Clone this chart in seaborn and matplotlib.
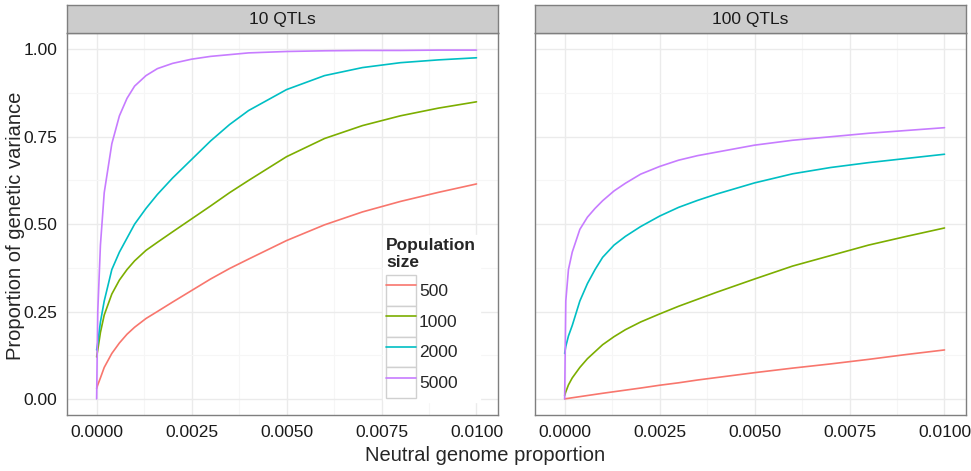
import numpy as np
import pandas as pd
import seaborn as sns
import matplotlib.pyplot as plt
from matplotlib.ticker import MultipleLocator
from matplotlib.legend_handler import HandlerLine2D
from matplotlib.patches import Rectangle

# neutral genome proportion (shared x grid)
x_vals = [0, 0.00003, 0.0001, 0.0002, 0.0004, 0.0006, 0.0008, 0.001, 0.0013, 0.0016,
          0.002, 0.0025, 0.003, 0.0035, 0.004, 0.005, 0.006, 0.007, 0.008, 0.009, 0.01]

pop_sizes = ['500', '1000', '2000', '5000']
panels = ['10 QTLs', '100 QTLs']

# 10 QTLs
q10_500 = [0.03, 0.04, 0.06, 0.09, 0.13, 0.16, 0.185, 0.205, 0.23, 0.25, 0.277, 0.31,
           0.343, 0.373, 0.40, 0.453, 0.498, 0.535, 0.565, 0.591, 0.615]
q10_1000 = [0.12, 0.14, 0.19, 0.24, 0.30, 0.34, 0.37, 0.395, 0.425, 0.448, 0.478, 0.515,
            0.552, 0.59, 0.625, 0.693, 0.745, 0.782, 0.81, 0.832, 0.85]
q10_2000 = [0.14, 0.16, 0.22, 0.28, 0.37, 0.42, 0.46, 0.50, 0.545, 0.585, 0.632, 0.685,
            0.738, 0.785, 0.825, 0.885, 0.925, 0.948, 0.962, 0.97, 0.976]
q10_5000 = [0.0, 0.25, 0.44, 0.59, 0.73, 0.81, 0.86, 0.895, 0.925, 0.945, 0.96, 0.972,
            0.98, 0.985, 0.99, 0.994, 0.996, 0.997, 0.997, 0.998, 0.998]

# 100 QTLs
q100_500 = [0.0, 0.0005, 0.0016, 0.0032, 0.0064, 0.0096, 0.0128, 0.016, 0.0205, 0.025, 0.031,
            0.039, 0.046, 0.054, 0.061, 0.075, 0.088, 0.1, 0.113, 0.127, 0.14]
q100_1000 = [0.01, 0.02, 0.04, 0.06, 0.09, 0.115, 0.135, 0.155, 0.178, 0.198, 0.22, 0.243,
             0.265, 0.285, 0.305, 0.343, 0.38, 0.41, 0.44, 0.465, 0.489]
q100_2000 = [0.13, 0.15, 0.18, 0.21, 0.28, 0.33, 0.37, 0.405, 0.44, 0.465, 0.493, 0.523,
             0.548, 0.568, 0.586, 0.618, 0.644, 0.662, 0.676, 0.688, 0.70]
q100_5000 = [0.0, 0.28, 0.37, 0.42, 0.485, 0.52, 0.545, 0.567, 0.595, 0.617, 0.643, 0.665,
             0.683, 0.696, 0.706, 0.726, 0.74, 0.75, 0.76, 0.768, 0.776]

series = {
    '10 QTLs': [q10_500, q10_1000, q10_2000, q10_5000],
    '100 QTLs': [q100_500, q100_1000, q100_2000, q100_5000],
}

rows = []
for panel in panels:
    for size, vals in zip(pop_sizes, series[panel]):
        for xv, yv in zip(x_vals, vals):
            rows.append({'panel': panel, 'size': size, 'x': xv, 'y': yv})
df = pd.DataFrame(rows)

palette = dict(zip(pop_sizes, ['#F8766D', '#7CAE00', '#00BFC4', '#C77CFF']))


class BoxedLine(HandlerLine2D):
    # ggplot-style legend key: line inside a grey-bordered box
    def create_artists(self, legend, orig_handle, xdescent, ydescent, width, height,
                       fontsize, trans):
        artists = super().create_artists(legend, orig_handle, xdescent, ydescent,
                                         width, height, fontsize, trans)
        box = Rectangle((-xdescent, -ydescent), width, height, facecolor='white',
                        edgecolor='#d0d0d0', linewidth=1.0, transform=trans)
        return [box] + list(artists)


sns.set_style('white')
plt.rcParams['font.family'] = ['Liberation Sans', 'DejaVu Sans']

fig = plt.figure(figsize=(9.71, 4.71), dpi=100)
ax_pos = [(0.069, 0.119, 0.444, 0.811), (0.551, 0.119, 0.444, 0.811)]

for i, (panel, pos) in enumerate(zip(panels, ax_pos)):
    ax = fig.add_axes(pos)
    sub = df[df['panel'] == panel]
    sns.lineplot(data=sub, x='x', y='y', hue='size', hue_order=pop_sizes,
                 palette=palette, ax=ax, linewidth=1.2, legend=(i == 0),
                 estimator=None, sort=False)
    ax.set_xlim(-0.00078, 0.01057)
    ax.set_ylim(-0.046, 1.047)
    ax.xaxis.set_minor_locator(MultipleLocator(0.00125))
    ax.yaxis.set_minor_locator(MultipleLocator(0.125))
    ax.set_xticks([0, 0.0025, 0.005, 0.0075, 0.01])
    ax.set_xticklabels(['0.0000', '0.0025', '0.0050', '0.0075', '0.0100'])
    ax.set_yticks([0, 0.25, 0.5, 0.75, 1.0])
    ax.grid(which='major', color='#ebebeb', linewidth=1.0)
    ax.grid(which='minor', color='#f6f6f6', linewidth=0.8)
    ax.set_axisbelow(True)
    for s in ax.spines.values():
        s.set_color('#7f7f7f')
        s.set_linewidth(1.0)
    ax.tick_params(axis='both', which='major', direction='out', length=4, width=1,
                   color='#333333', labelsize=12.5, labelcolor='#1a1a1a', pad=3)
    ax.tick_params(axis='both', which='minor', length=0)
    ax.set_xlabel('')
    ax.set_ylabel('')
    if i == 0:
        ax.set_yticklabels(['0.00', '0.25', '0.50', '0.75', '1.00'])
    else:
        ax.tick_params(axis='y', which='major', length=0, labelleft=False)

    # facet strip
    strip = fig.add_axes([pos[0], 0.930, pos[2], 0.059])
    strip.set_facecolor('#cccccc')
    strip.set_xticks([])
    strip.set_yticks([])
    for s in strip.spines.values():
        s.set_color('#7f7f7f')
        s.set_linewidth(1.0)
    strip.text(0.5, 0.47, panel, ha='center', va='center', fontsize=12.5, color='#1a1a1a')

    if i == 0:
        handles, labels = ax.get_legend_handles_labels()
        leg = ax.legend(handles, labels, title='Population\nsize', loc='lower left',
                        bbox_to_anchor=(0.712, 0.012), frameon=True,
                        fontsize=12.5, title_fontsize=12.5, handlelength=1.75,
                        handleheight=2.35, handletextpad=0.15, labelspacing=0.0,
                        borderpad=0.2, alignment='left',
                        handler_map={h: BoxedLine() for h in handles})
        leg.get_title().set_fontweight('bold')
        leg.get_title().set_linespacing(1.1)
        leg._legend_handle_box.sep = 0
        leg._legend_box.sep = 4
        leg.get_frame().set_edgecolor('white')
        leg.get_frame().set_facecolor('white')
        leg.get_frame().set_alpha(1)

fig.text(0.5, 0.012, 'Neutral genome proportion', ha='center', va='bottom', fontsize=14.5)
fig.text(0.006, 0.52, 'Proportion of genetic variance', ha='left', va='center',
         rotation=90, fontsize=14.5)

fig.savefig('out.png', dpi=100)
